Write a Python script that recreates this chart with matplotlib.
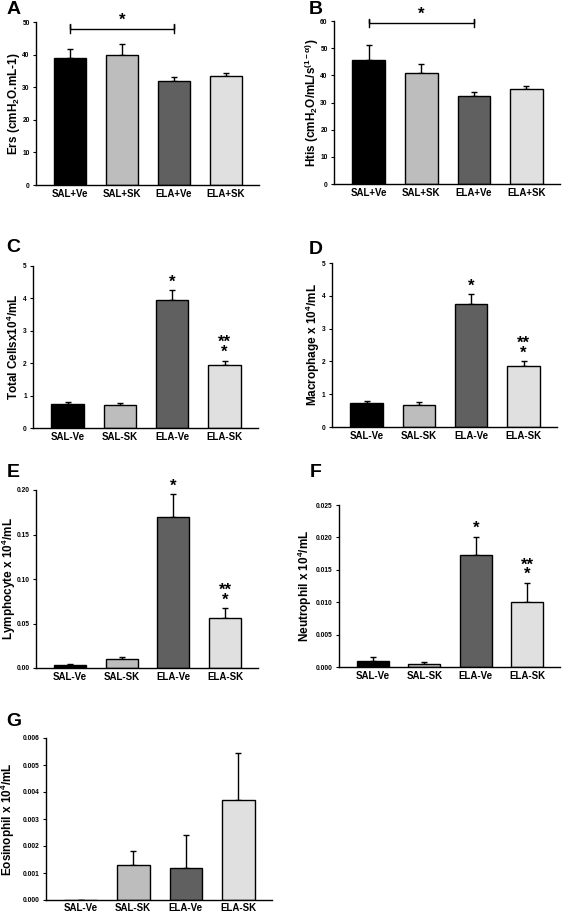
import numpy as np
import matplotlib
matplotlib.use('Agg')
import matplotlib.pyplot as plt
from matplotlib.ticker import FormatStrFormatter

plt.rcParams['font.family'] = ['Liberation Sans', 'DejaVu Sans']
plt.rcParams['font.weight'] = 'bold'
plt.rcParams['mathtext.fontset'] = 'custom'
plt.rcParams['mathtext.rm'] = 'Liberation Sans:bold'
plt.rcParams['mathtext.it'] = 'Liberation Sans:bold'
plt.rcParams['mathtext.bf'] = 'Liberation Sans:bold'
plt.rcParams['mathtext.default'] = 'rm'

# data
groups_plus = ['SAL+Ve', 'SAL+SK', 'ELA+Ve', 'ELA+SK']
groups_minus = ['SAL-Ve', 'SAL-SK', 'ELA-Ve', 'ELA-SK']
colors = ['#000000', '#bdbdbd', '#606060', '#e0e0e0']

ers = [39.1, 39.8, 31.9, 33.5]
ers_err = [2.7, 3.5, 1.2, 1.0]
htis = [45.5, 40.7, 32.5, 35.0]
htis_err = [5.5, 3.3, 1.5, 1.0]
total = [0.73, 0.70, 3.95, 1.93]
total_err = [0.07, 0.08, 0.30, 0.15]
macro = [0.73, 0.68, 3.75, 1.87]
macro_err = [0.05, 0.08, 0.30, 0.13]
lympho = [0.003, 0.010, 0.170, 0.056]
lympho_err = [0.002, 0.002, 0.025, 0.011]
neutro = [0.0010, 0.0004, 0.0173, 0.0100]
neutro_err = [0.0005, 0.0003, 0.0028, 0.0030]
eosino = [0.0, 0.0013, 0.0012, 0.0037]
eosino_err = [0.0, 0.00052, 0.00122, 0.00175]

fig = plt.figure(figsize=(5.67, 9.14), dpi=100)
W, H = 567.0, 914.0


def make_ax(l, r, t, b):
    return fig.add_axes([l / W, 1 - b / H, (r - l) / W, (b - t) / H])


def bars(ax, labels, vals, errs, top, yticks, fmt, ylabel, lx, xpad=3):
    x = np.arange(len(vals))
    ax.bar(x, vals, width=0.62, color=colors, edgecolor='black', linewidth=1.0, zorder=2)
    ax.errorbar(x, vals, yerr=[np.zeros(len(errs)), errs], fmt='none', ecolor='black',
                elinewidth=1.0, capsize=2.5, capthick=1.0, zorder=1)
    ax.set_xlim(-0.66, 3.64)
    ax.set_ylim(0, top)
    ax.set_yticks(yticks)
    ax.yaxis.set_major_formatter(FormatStrFormatter(fmt))
    ax.set_xticks(x)
    ax.set_xticklabels(labels, fontsize=7, fontweight='bold')
    ax.tick_params(axis='x', length=0, pad=xpad)
    ax.tick_params(axis='y', direction='out', length=2.5, width=0.8, labelsize=4.8, pad=2)
    for s in ['top', 'right']:
        ax.spines[s].set_visible(False)
    for s in ['left', 'bottom']:
        ax.spines[s].set_linewidth(1.0)
    ax.set_ylabel(ylabel, fontsize=8.5, fontweight='bold')
    ax.yaxis.set_label_coords(lx, 0.5)


def stars(ax, vals, errs, single, double, top):
    off = top * 0.005
    for i in single:
        ax.text(i, vals[i] + errs[i] + off, '*', ha='center', va='bottom', fontsize=12)
    for i in double:
        ax.text(i, vals[i] + errs[i] + off, '**\n*', ha='center', va='bottom',
                multialignment='center', linespacing=0.55, fontsize=12)


def bracket(ax, y, h, top):
    ax.plot([0, 0, 0, 2, 2, 2], [y - h, y + h, y, y, y + h, y - h], color='black', lw=1.0, clip_on=False)
    ax.text(1, y + top * 0.005, '*', ha='center', va='bottom', fontsize=12)


# A
axA = make_ax(36, 259, 22, 185)
bars(axA, groups_plus, ers, ers_err, 50, np.arange(0, 51, 10), '%d',
     r'Ers (cmH$_2$O.mL-1)', -0.065)
bracket(axA, 47.9, 1.4, 50)

# B
axB = make_ax(334, 560, 21, 184)
bars(axB, groups_plus, htis, htis_err, 60, np.arange(0, 61, 10), '%d',
     r'Htis (cmH$_2$O/mL/s$^{(1-\alpha)}$)', -0.057)
bracket(axB, 59.3, 1.6, 60)

# C
axC = make_ax(33, 258, 266, 428)
bars(axC, groups_minus, total, total_err, 5, np.arange(0, 6, 1), '%d',
     r'Total Cellsx10$^4$/mL', -0.053)
stars(axC, total, total_err, [2], [3], 5)

# D
axD = make_ax(332, 557, 263, 427)
bars(axD, groups_minus, macro, macro_err, 5, np.arange(0, 6, 1), '%d',
     r'Macrophage x 10$^4$/mL', -0.045)
stars(axD, macro, macro_err, [2], [3], 5)

# E
axE = make_ax(36, 258, 490, 668)
bars(axE, groups_minus, lympho, lympho_err, 0.20, np.arange(0, 0.201, 0.05), '%.2f',
     r'Lymphocyte x 10$^4$/mL', -0.08)
stars(axE, lympho, lympho_err, [2], [3], 0.20)

# F
axF = make_ax(339, 560, 505, 667)
bars(axF, groups_minus, neutro, neutro_err, 0.025, np.arange(0, 0.0251, 0.005), '%.3f',
     r'Neutrophil x 10$^4$/mL', -0.113)
stars(axF, neutro, neutro_err, [2], [3], 0.025)

# G
axG = make_ax(46, 272, 738, 900)
bars(axG, groups_minus, eosino, eosino_err, 0.006, np.arange(0, 0.00601, 0.001), '%.3f',
     r'Eosinophil x 10$^4$/mL', -0.128, xpad=2)

# panel letters
for letter, (px, py) in zip('ABCDEFG', [(14, 10), (316, 9), (13, 248), (316, 249),
                                        (13, 473), (316, 473), (14, 722)]):
    fig.text(px / W, 1 - py / H, letter, fontsize=14, fontweight='bold', ha='center', va='center')

fig.savefig('out.png', dpi=100)
